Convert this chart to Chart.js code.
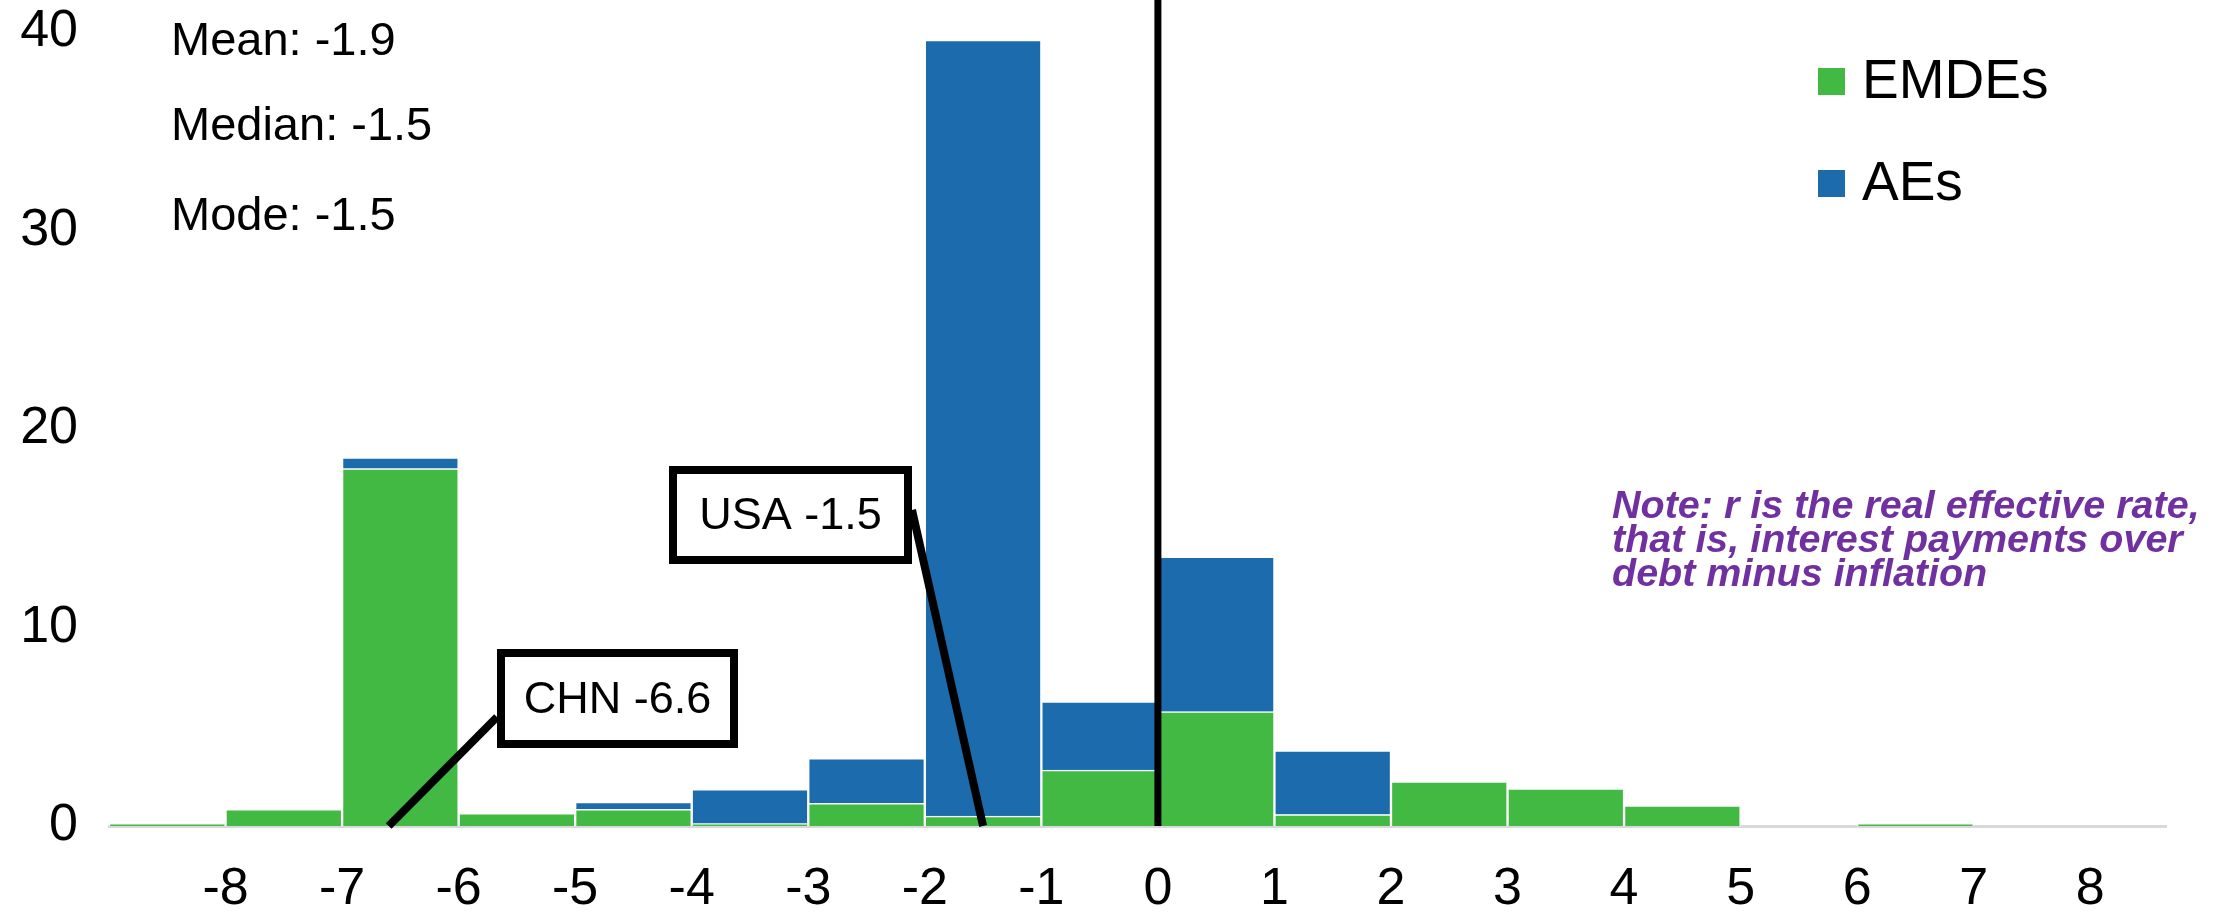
<!DOCTYPE html>
<html>
<head>
<meta charset="utf-8">
<script src="https://cdn.jsdelivr.net/npm/chart.js@4.4.1/dist/chart.umd.min.js"></script>
<style>
  body { margin: 0; background: #fff; }
  #wrap { width: 2234px; height: 914px; }
</style>
</head>
<body>
<div id="wrap"><canvas id="histChart" width="2234" height="914"></canvas></div>
<script>
// histogram bins of r (left edge of each 1-pt bin)
const binStarts = [-9, -8, -7, -6, -5, -4, -3, -2, -1, 0, 1, 2, 3, 4, 5, 6, 7];
const emdesCounts = [0.12, 0.84, 18.0, 0.64, 0.84, 0.12, 1.14, 0.5, 2.82, 5.76, 0.58, 2.24, 1.88, 1.03, 0, 0.12, 0];
const aesCounts = [0, 0, 0.55, 0, 0.37, 1.73, 2.27, 39.08, 3.44, 7.8, 3.22, 0, 0, 0, 0, 0, 0];

const xTicks = [-8, -7, -6, -5, -4, -3, -2, -1, 0, 1, 2, 3, 4, 5, 6, 7, 8];
const yTicks = [0, 10, 20, 30, 40];

const statLines = ["Mean: -1.9", "Median: -1.5", "Mode: -1.5"];
const calloutLabels = ["USA -1.5", "CHN -6.6"];
const calloutValues = [-1.5, -6.6];
const noteLines = [
  "Note: r is the real effective rate,",
  "that is, interest payments over",
  "debt minus inflation"
];

const GREEN = "#42b943";
const BLUE = "#1c6bad";
const FONT = "'Liberation Sans', Arial, sans-serif";

// where the boxes sit on the page
const calloutBoxes = [
  { x: 669, y: 466, w: 243, h: 98, side: "right", ay: 510 },
  { x: 497, y: 649, w: 241, h: 99, side: "left", ay: 717 }
];

const overlay = {
  id: "overlay",
  afterDatasetsDraw(chart) {
    const { ctx, chartArea, scales } = chart;
    const x = scales.x, y = scales.y;
    const base = y.getPixelForValue(0);
    ctx.save();

    // zero line
    const x0 = x.getPixelForValue(0);
    ctx.strokeStyle = "#000";
    ctx.lineWidth = 7;
    ctx.beginPath();
    ctx.moveTo(x0, chartArea.top);
    ctx.lineTo(x0, base);
    ctx.stroke();

    // callouts
    calloutLabels.forEach((label, i) => {
      const b = calloutBoxes[i];
      const sx = b.side === "right" ? b.x + b.w : b.x;
      ctx.strokeStyle = "#000";
      ctx.lineWidth = 8;
      ctx.beginPath();
      ctx.moveTo(sx, b.ay);
      ctx.lineTo(x.getPixelForValue(calloutValues[i]), base);
      ctx.stroke();

      ctx.fillStyle = "#fff";
      ctx.fillRect(b.x, b.y, b.w, b.h);
      ctx.lineWidth = 8;
      ctx.strokeRect(b.x + 4, b.y + 4, b.w - 8, b.h - 8);
      ctx.fillStyle = "#000";
      ctx.font = "45px " + FONT;
      ctx.textAlign = "center";
      ctx.textBaseline = "middle";
      ctx.fillText(label, b.x + b.w / 2, b.y + b.h / 2 + 2);
    });

    // summary stats
    ctx.font = "47px " + FONT;
    ctx.textAlign = "left";
    ctx.textBaseline = "middle";
    ctx.fillStyle = "#000";
    const statY = [42, 127, 217];
    statLines.forEach((t, i) => ctx.fillText(t, 171, statY[i]));

    // legend
    ctx.font = "55px " + FONT;
    const legY = [81, 183];
    chart.data.datasets.forEach((ds, i) => {
      ctx.fillStyle = ds.backgroundColor;
      ctx.fillRect(1818, legY[i] - 13, 27, 27);
      ctx.fillStyle = "#000";
      ctx.fillText(ds.label, 1862, legY[i] + 2);
    });

    // note
    ctx.fillStyle = "#7030a0";
    ctx.font = "italic bold 39.5px " + FONT;
    ctx.textBaseline = "alphabetic";
    noteLines.forEach((t, i) => ctx.fillText(t, 1612, 518 + i * 34));

    ctx.restore();
  }
};

new Chart(document.getElementById("histChart"), {
  type: "bar",
  data: {
    datasets: [
      {
        label: "EMDEs",
        data: binStarts.map((s, i) => ({ x: s + 0.5, y: emdesCounts[i] })),
        backgroundColor: GREEN,
        borderColor: "rgba(255,255,255,0.85)",
        borderWidth: 1.5,
        barPercentage: 1,
        categoryPercentage: 1
      },
      {
        label: "AEs",
        data: binStarts.map((s, i) => ({ x: s + 0.5, y: aesCounts[i] })),
        backgroundColor: BLUE,
        borderColor: "rgba(255,255,255,0.85)",
        borderWidth: 1.5,
        barPercentage: 1,
        categoryPercentage: 1
      }
    ]
  },
  options: {
    responsive: false,
    animation: false,
    layout: { padding: { left: 0, right: 68, top: 0, bottom: 0 } },
    plugins: {
      legend: { display: false },
      tooltip: { enabled: false }
    },
    scales: {
      x: {
        type: "linear",
        stacked: true,
        offset: false,
        min: -9,
        max: 8.65,
        afterBuildTicks: (axis) => { axis.ticks = xTicks.map((v) => ({ value: v })); },
        afterFit: (s) => {
          s.height = 88;
          s.paddingLeft = 0;
          s.paddingRight = 0;
        },
        grid: { display: false, drawTicks: false },
        border: { display: true, color: "#d9d9d9", width: 3 },
        ticks: {
          autoSkip: false,
          maxRotation: 0,
          padding: 32,
          color: "#000",
          font: { family: FONT, size: 52 }
        }
      },
      y: {
        stacked: true,
        min: 0,
        max: 41.6,
        afterBuildTicks: (axis) => { axis.ticks = yTicks.map((v) => ({ value: v })); },
        afterFit: (s) => {
          s.width = 109;
          s.paddingTop = 0;
          s.paddingBottom = 0;
        },
        grid: { display: false, drawTicks: false },
        border: { display: false },
        ticks: {
          padding: 31,
          color: "#000",
          font: { family: FONT, size: 52 }
        }
      }
    }
  },
  plugins: [overlay]
});
</script>
</body>
</html>
